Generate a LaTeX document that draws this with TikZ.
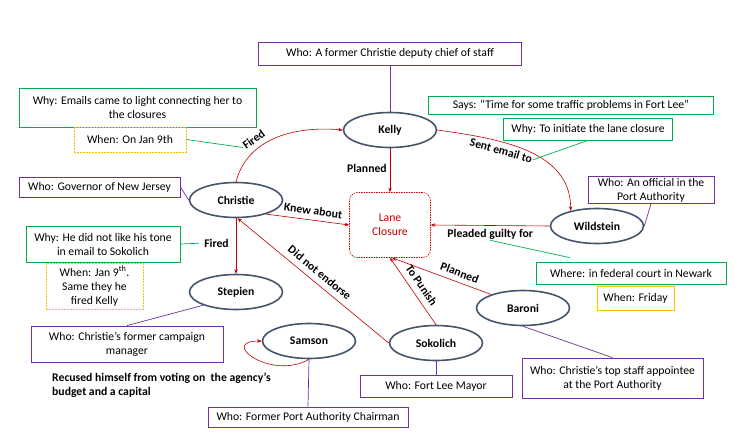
\documentclass[tikz,border=0pt]{standalone}
\usepackage{fontspec}
\setmainfont{Carlito}
\usetikzlibrary{shapes.geometric, arrows.meta, positioning}
\definecolor{ccpurple}{HTML}{7030A0}
\definecolor{ccgreen}{HTML}{00B050}
\definecolor{ccorange}{HTML}{FFC000}
\definecolor{ccred}{HTML}{C00000}
\definecolor{ccslate}{HTML}{44546A}

\begin{document}
\begin{tikzpicture}[
  x=1pt, y=-1pt,
  font=\fontsize{11.7}{14}\selectfont,
  actor/.style={
    ellipse,
    draw=ccslate,
    line width=1.6pt,
    minimum width=93pt,
    minimum height=35pt,
    inner sep=0pt,
    font=\fontsize{11.7}{14}\selectfont\bfseries
  },
  event/.style={
    rectangle,
    rounded corners=8pt,
    draw=ccred,
    dash pattern=on 1.5pt off 1pt,
    line width=0.6pt,
    text=ccred,
    align=center,
    minimum width=81pt,
    minimum height=65pt
  },
  who/.style={rectangle, draw=ccpurple, line width=0.8pt, align=center, inner sep=1pt},
  why/.style={rectangle, draw=ccgreen, line width=0.8pt, align=center, inner sep=1pt},
  when/.style={rectangle, draw=ccorange, line width=0.8pt, align=center, inner sep=1pt},
  whenx/.style={when, dash pattern=on 2pt off 1pt},
  tag/.style={font=\fontsize{11.7}{14}\selectfont\bfseries, text=black, inner sep=1pt},
  arrow/.style={-{Stealth[length=4.5pt,width=3.5pt]}, ccred, line width=0.6pt},
  plink/.style={ccpurple, line width=0.7pt},
  glink/.style={ccgreen, line width=0.7pt}
]
  \useasboundingbox (0,0) rectangle (754,441);

  % People
  \node[actor] (kelly) at (390,130) {Kelly};
  \node[actor] (christie) at (236,200) {Christie};
  \node[actor] (stepien) at (236,292) {Stepien};
  \node[actor] (samson) at (309,341) {Samson};
  \node[actor] (sokolich) at (436,343) {Sokolich};
  \node[actor] (baroni) at (523,308) {Baroni};
  \node[actor] (wildstein) at (597,226) {Wildstein};

  % Event
  \node[event] (lane) at (390,225) {Lane\\Closure};

  % Who / Why / When boxes
  \node[who, minimum width=263pt, minimum height=23pt] (deputy) at (390,53.5) {Who: A former Christie deputy chief of staff};
  \node[why, minimum width=285pt, minimum height=18pt] (says) at (571,105) {Says: “Time for some traffic problems in Fort Lee”};
  \node[why, minimum width=169pt, minimum height=22pt] (initiate) at (588,129) {Why: To initiate the lane closure};
  \node[who, minimum width=126pt, minimum height=27pt] (official) at (651,190) {Who: An official in the\\Port Authority};
  \node[why, minimum width=237pt, minimum height=39pt] (emails) at (137.5,107.5) {Why: Emails came to light connecting her to\\the closures};
  \node[whenx, minimum width=112pt, minimum height=25pt] (jan9) at (130,139.5) {When: On Jan 9th};
  \node[who, minimum width=161pt, minimum height=20pt] (governor) at (99.5,187) {Who: Governor of New Jersey};
  \node[why, minimum width=154pt, minimum height=36pt] (tone) at (103,244) {Why: He did not like his tone\\in email to Sokolich};
  \node[whenx, minimum width=97pt, minimum height=46pt] (sameday) at (94.5,286) {When: Jan 9\textsuperscript{th}.\\Same they he\\fired Kelly};
  \node[who, minimum width=192pt, minimum height=36pt] (campaign) at (127,344) {Who: Christie’s former campaign\\manager};
  \node[who, minimum width=200pt, minimum height=20pt] (chairman) at (308,417) {Who: Former Port Authority Chairman};
  \node[who, minimum width=152pt, minimum height=22pt] (mayor) at (436,386) {Who: Fort Lee Mayor};
  \node[why, minimum width=190pt, minimum height=22pt] (where) at (631,273) {Where: in federal court in Newark};
  \node[when, minimum width=77pt, minimum height=24pt] (friday) at (635.5,298) {When: Friday};
  \node[who, minimum width=181pt, minimum height=40pt] (appointee) at (612.5,378) {Who: Christie's top staff appointee\\at the Port Authority};

  \node[tag, anchor=west, align=left] (recused) at (51,385) {Recused himself from voting on\ \ the agency's\\budget and a capital};

  % Relations
  \draw[arrow] (christie.north) to[out=75, in=175] node[tag, sloped, above=4pt, pos=0.34] (fired1) {Fired} (kelly.west);
  \draw[arrow] (kelly.south) -- node[tag, left=2pt, pos=0.45] (planned1) {Planned} (lane.north);
  \draw[arrow] (kelly.east) to[out=-8, in=90] node[tag, sloped, below=3pt, pos=0.36] (sent) {Sent email to} (wildstein.150);
  \draw[arrow] (christie.-25) -- node[tag, sloped, above=4pt, pos=0.55] (knew) {Knew about} (lane.west);
  \draw[arrow] (wildstein.west) -- node[tag, below=2pt, pos=0.5] (pleaded) {Pleaded guilty for} (lane.east);
  \draw[arrow] (christie.south) -- node[tag, left=6pt, pos=0.45] (fired2) {Fired} (stepien.north);
  \draw[arrow] (sokolich.west) -- node[tag, sloped, above=5pt] (endorse) {Did not endorse} (christie.-85);
  \draw[arrow, {Stealth[length=4.5pt,width=3.5pt]}-] (lane.south) -- node[tag, sloped, above=5pt] (punish) {To Punish} (sokolich.north);
  \draw[arrow] (baroni.157) -- node[tag, sloped, above=4pt, pos=0.35] (planned2) {Planned} ([xshift=2pt]lane.south);
  \draw[arrow] (samson.south) to[out=210, in=180, looseness=2.2] (samson.west);

  % Details
  \draw[plink] (deputy.south) -- (kelly.north);
  \draw[plink] (official.south) -- (wildstein.east);
  \draw[plink] (governor.east) -- (christie.west);
  \draw[plink] (campaign.north) -- (stepien.202);
  \draw[plink] (samson.south) -- (chairman.north);
  \draw[plink] (sokolich.south) -- (mayor.north);
  \draw[plink] (baroni.south) -- (appointee.north);
  \draw[glink] (jan9.east) -- (fired1.west);
  \draw[glink] (initiate.south) -- (sent.east);
  \draw[glink] (tone.east) -- ([xshift=-4pt]fired2.west);
  \draw[glink] (pleaded.south) -- ([xshift=34pt,yshift=4pt]where.north west);
\end{tikzpicture}
\end{document}
